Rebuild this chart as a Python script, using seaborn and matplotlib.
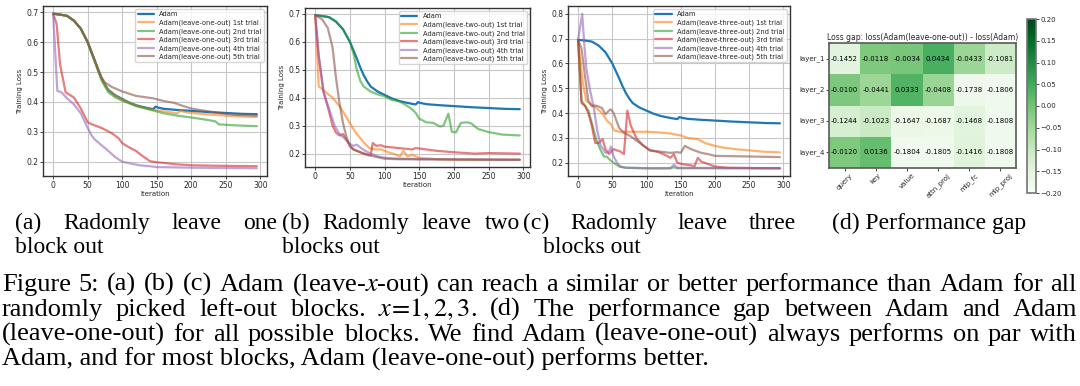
import matplotlib
matplotlib.use("Agg")
import matplotlib.pyplot as plt
import seaborn as sns
import pandas as pd

# ---- data ----
adam_x = [0, 10, 20, 30, 40, 50, 55, 60, 65, 70, 75, 80, 90, 100, 110, 120, 130, 140, 145, 148, 152, 160, 180, 200, 225, 250, 275, 295]
adam_y = [0.695, 0.692, 0.688, 0.672, 0.645, 0.600, 0.570, 0.540, 0.508, 0.480, 0.458, 0.440, 0.422, 0.410, 0.398, 0.389, 0.383, 0.378, 0.376, 0.384, 0.381, 0.377, 0.373, 0.370, 0.366, 0.363, 0.360, 0.359]

one_x = [
    [0, 10, 20, 30, 40, 50, 60, 70, 80, 90, 100, 120, 140, 150, 170, 180, 185, 190, 200, 225, 250, 275, 295],
    [0, 10, 20, 30, 40, 50, 60, 70, 80, 90, 100, 120, 140, 160, 180, 200, 220, 235, 240, 260, 280, 295],
    [0, 5, 10, 18, 25, 30, 40, 50, 55, 70, 85, 95, 100, 110, 120, 130, 140, 150, 160, 180, 200, 250, 295],
    [0, 6, 12, 20, 30, 40, 50, 55, 60, 70, 78, 90, 100, 110, 125, 140, 150, 200, 295],
    [0, 10, 20, 30, 40, 50, 60, 70, 75, 85, 100, 120, 145, 160, 175, 190, 200, 220, 250, 270, 295],
]
one_y = [
    [0.695, 0.692, 0.688, 0.672, 0.645, 0.600, 0.540, 0.478, 0.438, 0.420, 0.408, 0.388, 0.376, 0.372, 0.365, 0.362, 0.372, 0.366, 0.363, 0.358, 0.354, 0.351, 0.350],
    [0.695, 0.692, 0.688, 0.672, 0.645, 0.598, 0.535, 0.472, 0.432, 0.415, 0.404, 0.386, 0.374, 0.362, 0.354, 0.348, 0.341, 0.335, 0.325, 0.322, 0.320, 0.319],
    [0.695, 0.661, 0.525, 0.432, 0.422, 0.415, 0.378, 0.332, 0.326, 0.313, 0.295, 0.278, 0.262, 0.248, 0.236, 0.218, 0.202, 0.198, 0.196, 0.191, 0.188, 0.186, 0.185],
    [0.695, 0.437, 0.432, 0.412, 0.392, 0.362, 0.313, 0.290, 0.275, 0.255, 0.240, 0.215, 0.200, 0.195, 0.188, 0.185, 0.182, 0.180, 0.178],
    [0.695, 0.692, 0.688, 0.672, 0.645, 0.600, 0.540, 0.482, 0.465, 0.450, 0.435, 0.420, 0.412, 0.403, 0.397, 0.385, 0.378, 0.370, 0.360, 0.356, 0.354],
]

two_x = [
    [0, 5, 8, 15, 25, 35, 45, 52, 60, 70, 78, 85, 95, 105, 115, 122, 127, 133, 140, 150, 175, 200, 295],
    [0, 10, 20, 30, 40, 50, 55, 60, 65, 70, 80, 90, 100, 110, 120, 130, 140, 145, 150, 160, 170, 180, 185, 192, 197, 203, 210, 220, 225, 235, 250, 270, 295],
    [0, 5, 12, 20, 25, 30, 35, 40, 45, 50, 55, 60, 70, 80, 83, 88, 95, 100, 120, 140, 145, 160, 175, 200, 230, 250, 295],
    [0, 5, 12, 20, 28, 35, 42, 50, 55, 60, 65, 72, 80, 90, 100, 120, 150, 295],
    [0, 10, 18, 25, 30, 35, 40, 45, 50, 55, 65, 75, 85, 100, 120, 295],
]
two_y = [
    [0.695, 0.440, 0.435, 0.420, 0.400, 0.370, 0.330, 0.300, 0.270, 0.240, 0.220, 0.215, 0.215, 0.205, 0.198, 0.190, 0.210, 0.190, 0.195, 0.185, 0.180, 0.178, 0.178],
    [0.695, 0.692, 0.688, 0.672, 0.645, 0.600, 0.560, 0.500, 0.460, 0.440, 0.422, 0.412, 0.405, 0.392, 0.388, 0.375, 0.358, 0.345, 0.325, 0.312, 0.310, 0.297, 0.300, 0.343, 0.278, 0.276, 0.310, 0.312, 0.308, 0.288, 0.277, 0.268, 0.265],
    [0.695, 0.550, 0.420, 0.350, 0.300, 0.275, 0.265, 0.270, 0.250, 0.230, 0.215, 0.210, 0.200, 0.195, 0.238, 0.228, 0.230, 0.225, 0.220, 0.215, 0.220, 0.215, 0.210, 0.205, 0.200, 0.202, 0.200],
    [0.695, 0.550, 0.420, 0.360, 0.300, 0.270, 0.255, 0.235, 0.228, 0.232, 0.222, 0.210, 0.200, 0.190, 0.185, 0.182, 0.180, 0.178],
    [0.695, 0.680, 0.650, 0.580, 0.470, 0.380, 0.310, 0.260, 0.225, 0.215, 0.205, 0.195, 0.190, 0.182, 0.180, 0.178],
]

three_x = [
    [0, 3, 7, 12, 20, 25, 35, 42, 48, 53, 60, 100, 120, 135, 150, 160, 175, 185, 200, 215, 230, 250, 270, 295],
    [0, 5, 10, 15, 20, 27, 33, 38, 42, 47, 52, 60, 70, 100, 135, 140, 145, 295],
    [0, 5, 10, 15, 20, 25, 30, 36, 40, 45, 52, 57, 62, 67, 72, 77, 85, 95, 105, 115, 125, 135, 140, 145, 155, 165, 170, 175, 180, 190, 200, 220, 295],
    [0, 6, 9, 12, 17, 23, 28, 33, 40, 45, 48, 52, 57, 62, 70, 100, 135, 140, 145, 295],
    [0, 5, 10, 15, 20, 27, 35, 40, 45, 48, 52, 56, 60, 67, 75, 85, 95, 105, 120, 135, 145, 150, 156, 165, 180, 190, 200, 240, 295],
]
three_y = [
    [0.695, 0.620, 0.520, 0.450, 0.430, 0.425, 0.400, 0.370, 0.355, 0.330, 0.325, 0.325, 0.322, 0.318, 0.310, 0.300, 0.295, 0.280, 0.268, 0.260, 0.255, 0.250, 0.245, 0.242],
    [0.695, 0.450, 0.430, 0.410, 0.360, 0.290, 0.250, 0.225, 0.225, 0.210, 0.200, 0.185, 0.180, 0.178, 0.178, 0.182, 0.178, 0.178],
    [0.695, 0.440, 0.430, 0.400, 0.350, 0.280, 0.280, 0.295, 0.255, 0.235, 0.255, 0.250, 0.245, 0.235, 0.410, 0.350, 0.300, 0.270, 0.250, 0.245, 0.235, 0.220, 0.235, 0.200, 0.193, 0.190, 0.185, 0.220, 0.205, 0.195, 0.185, 0.180, 0.178],
    [0.695, 0.800, 0.680, 0.580, 0.500, 0.420, 0.330, 0.270, 0.240, 0.245, 0.265, 0.225, 0.200, 0.185, 0.180, 0.178, 0.178, 0.192, 0.180, 0.178],
    [0.695, 0.660, 0.550, 0.450, 0.430, 0.430, 0.420, 0.395, 0.410, 0.415, 0.400, 0.370, 0.340, 0.320, 0.310, 0.290, 0.270, 0.250, 0.245, 0.240, 0.243, 0.240, 0.268, 0.255, 0.240, 0.235, 0.228, 0.226, 0.223],
]

trial_names = ["1st", "2nd", "3rd", "4th", "5th"]
trial_colors = ["tab:orange", "tab:green", "tab:red", "tab:purple", "tab:brown"]

blocks = ["query", "key", "value", "attn_proj", "mlp_fc", "mlp_proj"]
layers = ["layer_1", "layer_2", "layer_3", "layer_4"]
gap = [
    [-0.1452, -0.0118, -0.0034, 0.0434, -0.0433, -0.1081],
    [-0.0100, -0.0441, 0.0333, -0.0408, -0.1738, -0.1806],
    [-0.1244, -0.1023, -0.1647, -0.1687, -0.1468, -0.1808],
    [-0.0120, 0.0136, -0.1804, -0.1805, -0.1416, -0.1808],
]

sub_a = ["(a)", "Radomly", "leave", "one"]
sub_b = ["(b)", "Radomly", "leave", "two"]
sub_c = ["(c)", "Radomly", "leave", "three"]
caption = [
    "Figure 5: (a) (b) (c) Adam (leave-$x$-out) can reach a similar or better performance than Adam for all",
    "randomly picked left-out blocks. $x\\!=\\!1,2,3$. (d) The performance gap between Adam and Adam",
    "(leave-one-out) for all possible blocks. We find Adam (leave-one-out) always performs on par with",
    "Adam, and for most blocks, Adam (leave-one-out) performs better.",
]

# ---- style ----
sns.set_theme(style="ticks", rc={
    "axes.edgecolor": "0.2", "axes.linewidth": 1.0,
    "grid.color": "0.78", "grid.linewidth": 0.8,
    "xtick.labelsize": 5.5, "ytick.labelsize": 5.5,
    "xtick.major.size": 2, "ytick.major.size": 2,
    "xtick.major.width": 0.6, "ytick.major.width": 0.6,
    "axes.labelsize": 5,
})
plt.rcParams["mathtext.fontset"] = "stix"

W, H = 1080, 386
fig = plt.figure(figsize=(W / 100, H / 100), dpi=100)


def px_axes(x0, y0, x1, y1):
    return fig.add_axes([x0 / W, 1 - y1 / H, (x1 - x0) / W, (y1 - y0) / H])


def loss_panel(ax, kind, xs, ys):
    sns.lineplot(x=adam_x, y=adam_y, ax=ax, color="tab:blue", lw=1.6, label="Adam")
    for i in range(5):
        sns.lineplot(x=xs[i], y=ys[i], ax=ax, color=trial_colors[i], lw=1.6, alpha=0.6,
                     label=f"Adam(leave-{kind}-out) {trial_names[i]} trial")
    ax.grid(True)
    ax.set_xlabel("Iteration", labelpad=1)
    ax.set_ylabel("Training Loss", labelpad=2)
    ax.set_xticks([0, 50, 100, 150, 200, 250, 300])
    ax.tick_params(pad=1.5)
    ax.legend(loc="upper right", fontsize=4.9, handlelength=2.4, labelspacing=0.3,
              borderpad=0.3, framealpha=0.8, edgecolor="0.8", fancybox=True)


ax1 = px_axes(43, 6, 267, 176)
loss_panel(ax1, "one", one_x, one_y)
ax2 = px_axes(305, 8, 530, 167)
loss_panel(ax2, "two", two_x, two_y)
ax3 = px_axes(568, 6, 790, 176)
loss_panel(ax3, "three", three_x, three_y)

# heatmap
hax = px_axes(829, 43, 1016, 168)
cax = px_axes(1027, 19, 1036, 193)
gap_df = pd.DataFrame(gap, index=layers, columns=blocks)
sns.heatmap(gap_df, ax=hax, cbar_ax=cax, cmap="Greens", vmin=-0.2, vmax=0.2,
            annot=True, fmt=".4f", annot_kws={"size": 5, "color": "black"})
hax.set_title("Loss gap: loss(Adam(leave-one-out)) - loss(Adam)", fontsize=5.5, pad=2)
hax.set_xticklabels(blocks, rotation=45, fontsize=5)
hax.set_yticklabels(layers, rotation=0, fontsize=5)
hax.tick_params(length=2, pad=1)
for s in hax.spines.values():
    s.set_visible(True)
    s.set_color("0.35")
    s.set_linewidth(1.2)
cax.set_yticks([-0.2, -0.15, -0.1, -0.05, 0, 0.05, 0.1, 0.15, 0.2])
cax.tick_params(labelsize=5, length=2, pad=1)
cbar = hax.collections[0].colorbar
cbar.outline.set_edgecolor("0.45")
cbar.outline.set_linewidth(1.2)

# ---- captions ----
renderer = fig.canvas.get_renderer()
serif = dict(family="Liberation Serif", color="black")


def justify(words, y, x0, x1, size):
    texts = [fig.text(0, 1 - y / H, w, fontsize=size, va="baseline", ha="left", **serif)
             for w in words]
    widths = [t.get_window_extent(renderer).width for t in texts]
    space = (x1 - x0 - sum(widths)) / max(len(words) - 1, 1)
    x = x0
    for t, w in zip(texts, widths):
        t.set_x(x / W)
        x += w + space


def plain(text, x, y, size):
    fig.text(x / W, 1 - y / H, text, fontsize=size, va="baseline", ha="left", **serif)


sub_size = 17
justify(sub_a, 229, 15, 277, sub_size)
justify(sub_b, 229, 282, 520, sub_size)
justify(sub_c, 229, 523, 796, sub_size)
plain("(d) Performance gap", 832, 229, sub_size)
plain("block out", 15, 253, sub_size)
plain("blocks out", 282, 253, sub_size)
plain("blocks out", 543, 253, sub_size)

cap_size = 19
cap_y = [291, 316, 341, 366]
for i, line in enumerate(caption):
    if i < 3:
        justify(line.split(" "), cap_y[i], 2, 1077, cap_size)
    else:
        plain(line, 2, cap_y[i], cap_size)

fig.savefig("out.png", dpi=100)
